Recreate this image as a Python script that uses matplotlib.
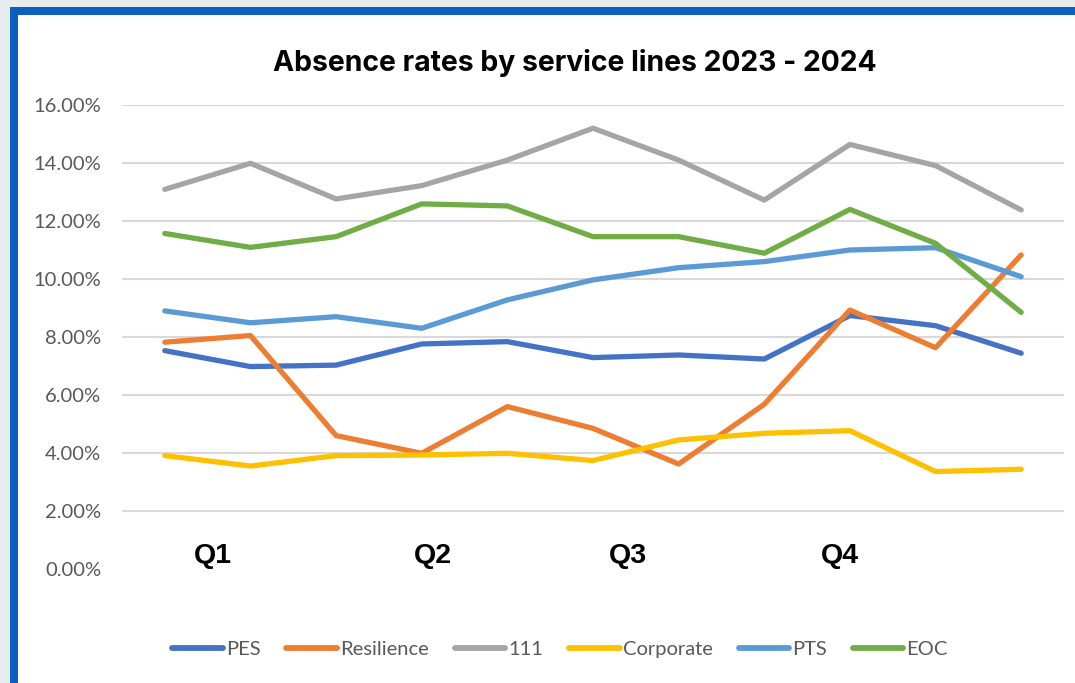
import matplotlib
matplotlib.use("Agg")
import matplotlib.pyplot as plt
from matplotlib.patches import Rectangle
from matplotlib.ticker import FuncFormatter, MultipleLocator

# ---------------- data ----------------
periods = list(range(11))
series_names = ["PES", "Resilience", "111", "Corporate", "PTS", "EOC"]
pes = [7.53, 6.98, 7.03, 7.76, 7.84, 7.29, 7.38, 7.24, 8.74, 8.39, 7.44]
resilience = [7.82, 8.05, 4.60, 3.99, 5.60, 4.85, 3.62, 5.68, 8.93, 7.63, 10.83]
s111 = [13.09, 13.99, 12.76, 13.22, 14.10, 15.20, 14.10, 12.72, 14.64, 13.91, 12.38]
corporate = [3.91, 3.55, 3.91, 3.93, 3.99, 3.74, 4.45, 4.68, 4.77, 3.36, 3.44]
pts = [8.90, 8.49, 8.70, 8.30, 9.28, 9.97, 10.39, 10.60, 11.00, 11.08, 10.08]
eoc = [11.57, 11.09, 11.46, 12.59, 12.52, 11.46, 11.46, 10.89, 12.40, 11.23, 8.85]
quarter_labels = ["Q1", "Q2", "Q3", "Q4"]
title = "Absence rates by service lines 2023 - 2024"

colors = ["#4472C4", "#ED7D31", "#A5A5A5", "#FFC000", "#5B9BD5", "#70AD47"]
values = [pes, resilience, s111, corporate, pts, eoc]

W, H = 1075, 683
fig = plt.figure(figsize=(W / 100, H / 100), dpi=100)
fig.patch.set_facecolor("#E7ECEC")

def fx(px):
    return px / W

def fy(py):
    return 1 - py / H

# frame: blue border + white panel
fig.patches.append(Rectangle((fx(10), 0), 1 - fx(10), fy(7), transform=fig.transFigure,
                             facecolor="#0A5FBF", edgecolor="none", zorder=-10))
fig.patches.append(Rectangle((fx(18), 0), 1 - fx(18), fy(15), transform=fig.transFigure,
                             facecolor="white", edgecolor="none", zorder=-9))

ax = fig.add_axes([fx(122), fy(569), fx(1064) - fx(122), fy(105) - fy(569)])
ax.set_zorder(1)
ax.set_facecolor("none")

for name, vals, c in zip(series_names, values, colors):
    ax.plot(periods, [v / 100 for v in vals], color=c, lw=3.8, label=name,
            solid_capstyle="round", solid_joinstyle="round", zorder=3)

ax.set_xlim(-0.5, 10.5)
ax.set_ylim(0, 0.16)
ax.yaxis.set_major_locator(MultipleLocator(0.02))
ax.yaxis.set_major_formatter(FuncFormatter(lambda v, p: f"{v*100:.2f}%"))
ax.grid(axis="y", color="#D9D9D9", lw=1.5, zorder=0)
ax.set_axisbelow(True)
ax.set_xticks([])
for s in ax.spines.values():
    s.set_visible(False)
ax.tick_params(axis="y", length=0, pad=15, labelsize=14.5, labelcolor="#595959")
for lab in ax.get_yticklabels():
    lab.set_family(["Lato", "DejaVu Sans"])

fig.canvas.draw()
# hide the 0% gridline (not visible in reference)
for gl, loc in zip(ax.get_ygridlines(), ax.get_yticks()):
    if abs(loc) < 1e-9:
        gl.set_visible(False)

fig.text(fx(575), fy(63), title, ha="center", va="center", fontsize=20.4,
         fontweight="bold", family=["Inter", "DejaVu Sans"], color="black")

q_x = [213, 433, 628, 840]
for q, x in zip(quarter_labels, q_x):
    fig.text(fx(x), fy(556), q, ha="center", va="center", fontsize=20.5,
             fontweight="bold", family=["Liberation Sans", "DejaVu Sans"])

leg = fig.legend(loc="center", bbox_to_anchor=(fx(560), fy(649)), ncol=6, frameon=False,
                 handlelength=2.5, handletextpad=0.15, columnspacing=1.3,
                 prop={"family": ["Lato", "DejaVu Sans"], "size": 14.5})
for t in leg.get_texts():
    t.set_color("#595959")
for h in leg.legend_handles:
    h.set_linewidth(4.2)

fig.savefig("out.png", dpi=100, facecolor=fig.get_facecolor())
